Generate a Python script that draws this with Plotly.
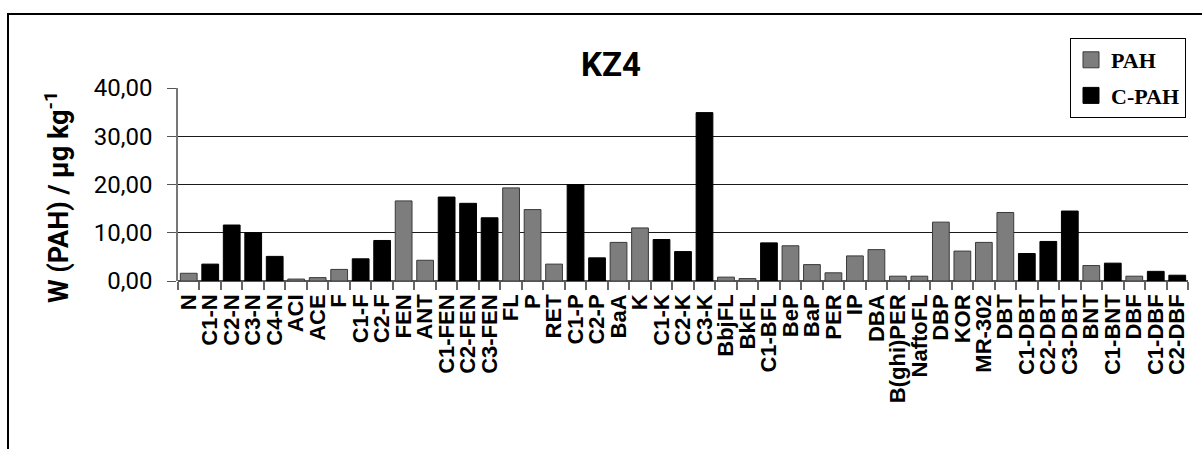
import plotly.graph_objects as go

categories = ["N", "C1-N", "C2-N", "C3-N", "C4-N", "ACI", "ACE", "F", "C1-F", "C2-F",
              "FEN", "ANT", "C1-FEN", "C2-FEN", "C3-FEN", "FL", "P", "RET", "C1-P", "C2-P",
              "BaA", "K", "C1-K", "C2-K", "C3-K", "BbjFL", "BkFL", "C1-BFL", "BeP", "BaP",
              "PER", "IP", "DBA", "B(ghi)PER", "NaftoFL", "DBP", "KOR", "MR-302", "DBT",
              "C1-DBT", "C2-DBT", "C3-DBT", "BNT", "C1-BNT", "DBF", "C1-DBF", "C2-DBF"]
values = [1.6, 3.5, 11.6, 10.0, 5.1, 0.4, 0.7, 2.4, 4.6, 8.4,
          16.6, 4.3, 17.4, 16.1, 13.1, 19.3, 14.8, 3.5, 20.0, 4.8,
          8.0, 11.0, 8.6, 6.1, 34.9, 0.8, 0.5, 7.9, 7.3, 3.4,
          1.7, 5.2, 6.5, 1.0, 1.0, 12.2, 6.2, 8.0, 14.2,
          5.7, 8.2, 14.5, 3.2, 3.7, 1.0, 2.0, 1.2]
groups = ["PAH", "C-PAH", "C-PAH", "C-PAH", "C-PAH", "PAH", "PAH", "PAH", "C-PAH", "C-PAH",
          "PAH", "PAH", "C-PAH", "C-PAH", "C-PAH", "PAH", "PAH", "PAH", "C-PAH", "C-PAH",
          "PAH", "PAH", "C-PAH", "C-PAH", "C-PAH", "PAH", "PAH", "C-PAH", "PAH", "PAH",
          "PAH", "PAH", "PAH", "PAH", "PAH", "PAH", "PAH", "PAH", "PAH",
          "C-PAH", "C-PAH", "C-PAH", "PAH", "C-PAH", "PAH", "C-PAH", "C-PAH"]
y_ticks = [0, 10, 20, 30, 40]
y_tick_labels = ["0,00", "10,00", "20,00", "30,00", "40,00"]
series_names = ["PAH", "C-PAH"]

styles = {"PAH": dict(fill="#7d7d7d", line="#3a3a3a"),
          "C-PAH": dict(fill="#000000", line="#000000")}

fig = go.Figure()
for g in series_names:
    ys = [v if gr == g else None for v, gr in zip(values, groups)]
    fig.add_trace(go.Bar(
        x=categories, y=ys, name=g, legendgroup=g, showlegend=False,
        marker=dict(color=styles[g]["fill"], line=dict(color=styles[g]["line"], width=1)),
    ))
# legend entries with larger square swatches
for g in series_names:
    fig.add_trace(go.Scatter(
        x=[None], y=[None], mode="markers", name=g, legendgroup=g,
        marker=dict(symbol="square", size=17, color=styles[g]["fill"],
                    line=dict(color=styles[g]["line"], width=1)),
    ))

W, H = 1202, 449
L, R, T, B = 178, 14, 88, 168
pw = W - L - R
ph = H - T - B

def px_x(px):
    return (px - L) / pw

def px_y(py):
    return (H - B - py) / ph

fig.update_layout(
    width=W, height=H,
    margin=dict(l=L, r=R, t=T, b=B, pad=0, autoexpand=False),
    paper_bgcolor="white", plot_bgcolor="white",
    barmode="overlay", bargap=0.22,
    title=dict(text="<b>KZ4</b>", x=611 / W, xanchor="center",
               y=1 - 64 / H, yanchor="middle",
               font=dict(family="Roboto", size=33, color="#000")),
    showlegend=True,
    legend=dict(x=px_x(1070), y=px_y(38), xanchor="left", yanchor="top",
                bgcolor="white", bordercolor="#000", borderwidth=1,
                font=dict(family="Liberation Serif", size=22, color="#000", weight="bold"),
                traceorder="grouped", tracegroupgap=4, itemwidth=30),
    xaxis=dict(type="category", showgrid=False, showline=False,
               tickmode="array", tickvals=categories, ticktext=categories,
               ticks="outside", tickson="boundaries", ticklen=8, tickcolor="#666", tickwidth=1.5,
               tickangle=-90, ticklabelstandoff=8,
               tickfont=dict(family="Liberation Sans", size=22, color="#000", weight="bold"),
               range=[-0.5, len(categories) - 0.5]),
    yaxis=dict(range=[0, 40], tickvals=y_ticks, ticktext=y_tick_labels,
               showgrid=True, gridcolor="#1a1a1a", gridwidth=1,
               showline=True, linecolor="#777", linewidth=1.5,
               ticks="outside", ticklen=9, tickcolor="#555", ticklabelstandoff=10,
               tickfont=dict(family="Roboto", size=24, color="#000"),
               zeroline=True, zerolinecolor="#555", zerolinewidth=1.5),
)

fig.add_annotation(
    text="<b>W (PAH) / µg kg<sup>-1</sup></b>", textangle=-90,
    xref="paper", yref="paper", x=px_x(57), y=px_y(197),
    xanchor="center", yanchor="middle", showarrow=False,
    font=dict(family="Roboto", size=27, color="#000"),
)

# outer frame (only left and top visible in the crop)
fig.add_shape(type="rect", xref="paper", yref="paper",
              x0=px_x(8), y0=px_y(470), x1=px_x(1230), y1=px_y(14),
              line=dict(color="#000", width=2), fillcolor="rgba(0,0,0,0)", layer="above")

fig.write_html("out.html", config={"displayModeBar": False},
               post_script="document.body.style.margin='0';document.body.style.padding='0';")
